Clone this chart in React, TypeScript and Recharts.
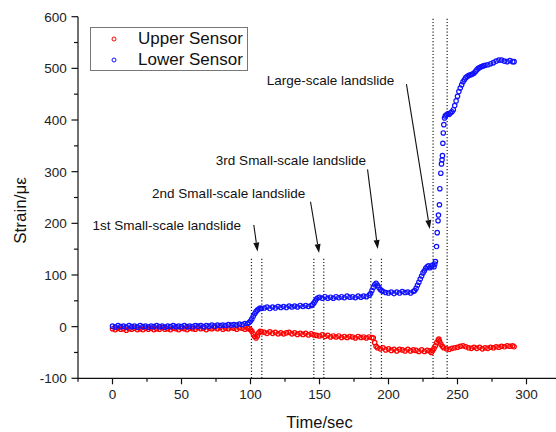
import React from 'react';
import { ScatterChart, Scatter, XAxis, YAxis, ReferenceLine, ReferenceDot, Legend } from 'recharts';

const FONT = '"Liberation Sans", Arial, Helvetica, sans-serif';

// [time (s), strain (με)]
const upperSensor: [number, number][] = [
  [0,-4],[2,-6],[4,-3],[6,-5],[8,-4],[10,-7],[12,-4],[14,-5],[16,-3],[18,-6],[20,-4],[22,-6],[24,-3],[26,-5],[28,-3],[30,-6],
  [32,-4],[34,-5],[36,-2],[38,-5],[40,-4],[42,-6],[44,-3],[46,-4],[48,-6],[50,-3],[52,-4],[54,-6],[56,-3],[58,-4],[60,-5],
  [62,-2],[64,-4],[66,-3],[68,-6],[70,-3],[72,-4],[74,-2],[76,-4],[78,-2],[80,-5],[82,-3],[84,-4],[86,-2],[88,-3],[90,-5],
  [92,-2],[94,-3],[96,-5],[98,-3],[99,-4],[100,-6],[101,-9],[102,-14],[103,-19],[104,-22],[105,-18],[106,-12],[107,-9],
  [108,-10],[110,-11],[112,-13],[114,-10],[116,-13],[118,-11],[120,-14],[122,-12],[124,-14],[126,-12],[128,-11],[130,-14],
  [132,-12],[134,-15],[136,-13],[138,-15],[140,-13],[142,-16],[144,-14],[146,-16],[148,-17],[150,-18],[152,-16],[154,-19],
  [156,-17],[158,-20],[160,-18],[162,-20],[164,-18],[166,-21],[168,-19],[170,-21],[172,-19],[174,-20],[176,-22],[178,-19],
  [180,-21],[182,-20],[184,-22],[186,-20],[188,-21],[189,-22],[190,-31],[191,-38],[192,-41],[194,-43],[196,-41],[198,-45],
  [200,-43],[202,-46],[204,-44],[206,-47],[208,-44],[210,-45],[212,-47],[214,-44],[216,-47],[218,-45],[220,-46],[222,-48],
  [224,-45],[226,-48],[228,-46],[230,-47],[231,-50],[232,-46],[233,-42],[234,-37],[235,-31],[236,-26],[236.5,-24],[237,-29],
  [238,-34],[239,-38],[240,-41],[242,-43],[244,-44],[246,-42],[248,-41],[250,-40],[252,-38],[254,-37],[256,-39],[258,-41],
  [260,-42],[262,-40],[264,-42],[266,-40],[268,-43],[270,-41],[272,-42],[274,-40],[276,-41],[278,-39],[280,-40],[282,-38],
  [284,-39],[286,-37],[288,-38],[290,-37],[291,-39],
];

const lowerSensor: [number, number][] = [
  [0,1],[2,-1],[4,2],[6,0],[8,1],[10,-1],[12,2],[14,0],[16,1],[18,-1],[20,2],[22,0],[24,1],[26,-1],[28,1],[30,0],[32,2],
  [34,0],[36,1],[38,-1],[40,1],[42,0],[44,2],[46,0],[48,1],[50,0],[52,2],[54,0],[56,1],[58,0],[60,2],[62,1],[64,2],[66,0],
  [68,2],[70,1],[72,3],[74,1],[76,3],[78,2],[80,3],[82,2],[84,4],[86,3],[88,4],[90,3],[92,5],[94,4],[96,6],[98,6],
  [99,8],[100,11],[101,15],[102,20],[103,25],[104,29],[105,32],[106,34],[107,36],[108,35],[110,36],[112,38],[114,35],
  [116,38],[118,36],[120,39],[122,37],[124,39],[126,37],[128,40],[130,38],[132,40],[134,38],[136,41],[138,39],[140,41],
  [142,39],[144,41],[145,43],[146,46],[147,50],[148,54],[149,56],[150,57],[152,55],[154,58],[156,55],[158,57],[160,55],
  [162,58],[164,56],[166,58],[168,56],[170,59],[172,57],[174,58],[176,56],[178,59],[180,57],[182,59],[184,58],[186,61],
  [187,64],[188,70],[189,76],[190,81],[191,84],[192,80],[193,76],[194,72],[195,70],[196,68],[198,66],[200,65],[202,67],
  [204,64],[206,67],[208,65],[210,68],[212,66],[214,67],[216,65],[218,68],[219,70],[220,74],[221,80],[222,86],[223,92],
  [224,98],[225,104],[226,108],[227,113],[228,116],[229,118],[230,114],[231,117],[232,119],[233,116],[233.5,121],[234,126],
  [234.8,155],[235.3,182],[235.9,205],[236.2,216],[236.9,236],[237.2,267],[237.9,297],[238.4,315],[238.8,323],[239.1,331],
  [239.4,355],[239.7,375],[240.1,391],[240.6,404],[241.2,408],[242,410],[243,412],[244,411],[245,414],[246,416],[247,420],
  [248,428],[249,437],[250,446],[251,455],[252,462],[253,468],[254,474],[255,478],[256,482],[257,484],[258,486],[259,487],
  [260,488],[261,489],[262,491],[263,494],[264,497],[265,500],[266,501],[267,503],[268,504],[269,505],[270,506],[272,507],
  [274,509],[276,511],[278,514],[280,516],[282,516],[284,514],[286,513],[288,515],[290,513],[291,513],
];

const xTicks = [-25, 0, 25, 50, 75, 100, 125, 150, 175, 200, 225, 250, 275, 300, 325];
const yTicks = [-100, -50, 0, 50, 100, 150, 200, 250, 300, 350, 400, 450, 500, 550, 600];
const xLabeled = [0, 50, 100, 150, 200, 250, 300];
const yLabeled = [-100, 0, 100, 200, 300, 400, 500, 600];

// landslide event windows (s): [start, end]
const eventWindows: [number, number][] = [[100.7, 108.2], [145.9, 153.1], [187.2, 194.9]];
const largeWindow: [number, number] = [232.3, 242.5];
const windowTop = 135;

// annotation texts: [label, x, y]
const annotations: [string, number, number][] = [
  ['1st Small-scale landslide', -14.5, 196.7],
  ['2nd Small-scale landslide', 28.7, 258.6],
  ['3rd Small-scale landslide', 74.9, 322.5],
  ['Large-scale landslide', 111.8, 477.4],
];
// arrows: [x1, y1, x2, y2]
const arrows: [number, number, number, number][] = [
  [102.4, 196.7, 105.1, 145.4],
  [143.5, 241.8, 149.7, 142.5],
  [184.8, 304.5, 192.2, 150.2],
  [213.0, 469.6, 229.9, 188.9],
];

const upperData = upperSensor.map(([t, v]) => ({ t, v }));
const lowerData = lowerSensor.map(([t, v]) => ({ t, v }));

const RED = '#ff0000';
const BLUE = '#1010ff';
const AX = '#111';

const circle = (color: string) => (p: any) => (
  <circle cx={p.cx} cy={p.cy} r={2.2} fill="none" stroke={color} strokeWidth={1.2} />
);

const BottomTick = (p: any) => {
  const v = p.payload.value;
  const major = v % 50 === 0;
  return (
    <g>
      <line x1={p.x} x2={p.x} y1={p.y} y2={p.y + (major ? 6 : 3.5)} stroke={AX} strokeWidth={1.2} />
      {xLabeled.includes(v) && (
        <text x={p.x} y={p.y + 11.5} dy="0.71em" textAnchor="middle" fontFamily={FONT} fontSize={13.5} fill="#222">
          {v}
        </text>
      )}
    </g>
  );
};
const TopTick = (p: any) => {
  const v = p.payload.value;
  const major = v % 50 === 0;
  return <line x1={p.x} x2={p.x} y1={p.y} y2={p.y + (major ? 6.5 : 3.5)} stroke={AX} strokeWidth={1.2} />;
};
const LeftTick = (p: any) => {
  const v = p.payload.value;
  const major = v % 100 === 0;
  return (
    <g>
      <line x1={p.x} x2={p.x - (major ? 6.5 : 4)} y1={p.y} y2={p.y} stroke={AX} strokeWidth={1.2} />
      {yLabeled.includes(v) && (
        <text x={p.x - 11.3} y={p.y} dy="0.36em" textAnchor="end" fontFamily={FONT} fontSize={13.5} fill="#222">
          {v}
        </text>
      )}
    </g>
  );
};
const RightTick = (p: any) => {
  const v = p.payload.value;
  const major = v % 100 === 0;
  return <line x1={p.x} x2={p.x - (major ? 6 : 3.5)} y1={p.y} y2={p.y} stroke={AX} strokeWidth={1.2} />;
};

const Arrow = (p: any) => {
  const { x1, y1, x2, y2 } = p;
  const dx = x2 - x1;
  const dy = y2 - y1;
  const len = Math.hypot(dx, dy) || 1;
  const ux = dx / len;
  const uy = dy / len;
  const hl = 9;
  const hw = 3;
  const bx = x2 - ux * hl;
  const by = y2 - uy * hl;
  return (
    <g>
      <line x1={x1} y1={y1} x2={bx} y2={by} stroke="#111" strokeWidth={1.1} />
      <polygon points={`${x2},${y2} ${bx - uy * hw},${by + ux * hw} ${bx + uy * hw},${by - ux * hw}`} fill="#111" />
    </g>
  );
};

const textShape = (label: string) => (p: any) => (
  <text x={p.cx} y={p.cy} dy="0.36em" textAnchor="start" fontFamily={FONT} fontSize={13.5} fill="#111">
    {label}
  </text>
);

const legendItems = [
  { name: 'Upper Sensor', color: RED },
  { name: 'Lower Sensor', color: BLUE },
];

const LegendBox = () => (
  <div
    style={{
      width: 158,
      height: 44,
      boxSizing: 'border-box',
      border: '1px solid #777',
      background: '#fff',
      fontFamily: FONT,
      fontSize: 17,
      color: '#111',
      position: 'relative',
    }}
  >
    {legendItems.map((it, i) => (
      <div key={it.name} style={{ position: 'absolute', left: 0, top: 1 + i * 21, height: 20, width: 156 }}>
        <svg width={14} height={20} style={{ position: 'absolute', left: 16, top: 0 }}>
          <circle cx={7} cy={10} r={2} fill="none" stroke={it.color} strokeWidth={1} />
        </svg>
        <span style={{ position: 'absolute', left: 47, top: 0, lineHeight: '20px', whiteSpace: 'nowrap' }}>{it.name}</span>
      </div>
    ))}
  </div>
);

export default function App() {
  return (
    <div style={{ position: 'absolute', left: 0, top: 0, width: 556, height: 432, overflow: 'hidden', background: '#fff' }}>
      <ScatterChart width={580} height={432} margin={{ top: 16.7, right: 19, bottom: 0, left: 0 }}>
        <XAxis
          xAxisId="b"
          dataKey="t"
          type="number"
          domain={[-25, 325]}
          ticks={xTicks}
          interval={0}
          allowDataOverflow
          height={53.7}
          tickSize={0}
          tickMargin={0}
          tickLine={false}
          tick={<BottomTick />}
          axisLine={{ stroke: AX, strokeWidth: 1.2 }}
          label={{
            content: (lp: any) => {
              const vb = lp.viewBox || {};
              return (
                <text x={vb.x + vb.width / 2} y={vb.y + 50} textAnchor="middle" fontFamily={FONT} fontSize={16.5} fill="#111">
                  Time/sec
                </text>
              );
            },
          }}
        />
        <XAxis
          xAxisId="t"
          orientation="top"
          type="number"
          domain={[-25, 325]}
          ticks={xTicks}
          interval={0}
          allowDataOverflow
          height={0}
          tickSize={0}
          tickMargin={0}
          tickLine={false}
          tick={<TopTick />}
          axisLine={{ stroke: AX, strokeWidth: 1.2 }}
        />
        <YAxis
          yAxisId="l"
          dataKey="v"
          type="number"
          domain={[-100, 600]}
          ticks={yTicks}
          interval={0}
          allowDataOverflow
          width={78}
          tickSize={0}
          tickMargin={0}
          tickLine={false}
          tick={<LeftTick />}
          axisLine={{ stroke: AX, strokeWidth: 1.2 }}
          label={{
            content: (lp: any) => {
              const vb = lp.viewBox || {};
              const cx = vb.x + 20;
              const cy = vb.y + vb.height / 2 + 13;
              return (
                <text
                  x={cx}
                  y={cy}
                  transform={`rotate(-90 ${cx} ${cy})`}
                  textAnchor="middle"
                  dy="0.36em"
                  fontFamily={FONT}
                  fontSize={17}
                  fill="#111"
                >
                  Strain/με
                </text>
              );
            },
          }}
        />
        <YAxis
          yAxisId="r"
          orientation="right"
          type="number"
          domain={[-100, 600]}
          ticks={yTicks}
          interval={0}
          allowDataOverflow
          width={0}
          tickSize={0}
          tickMargin={0}
          tickLine={false}
          tick={<RightTick />}
          axisLine={{ stroke: AX, strokeWidth: 1.2 }}
        />
        <Legend
          layout="vertical"
          align="center"
          verticalAlign="middle"
          wrapperStyle={{ left: 90, top: 27, width: 158, height: 44 }}
          content={() => <LegendBox />}
        />
        {eventWindows.flatMap(([a, b], i) =>
          [a, b].map((x, j) => (
            <ReferenceLine
              key={`w${i}-${j}`}
              xAxisId="b"
              yAxisId="l"
              segment={[{ x, y: -100 }, { x, y: windowTop }]}
              stroke="#222"
              strokeWidth={1.2}
              strokeDasharray="1.2 2"
            />
          ))
        )}
        {largeWindow.map((x, j) => (
          <ReferenceLine
            key={`lw${j}`}
            xAxisId="b"
            yAxisId="l"
            x={x}
            stroke="#222"
            strokeWidth={1.2}
            strokeDasharray="1.2 2"
          />
        ))}
        <Scatter
          name="Upper Sensor"
          data={upperData}
          xAxisId="b"
          yAxisId="l"
          fill={RED}
          shape={circle(RED)}
          isAnimationActive={false}
        />
        <Scatter
          name="Lower Sensor"
          data={lowerData}
          xAxisId="b"
          yAxisId="l"
          fill={BLUE}
          shape={circle(BLUE)}
          isAnimationActive={false}
        />
        {arrows.map(([x1, y1, x2, y2], i) => (
          <ReferenceLine
            key={`a${i}`}
            xAxisId="b"
            yAxisId="l"
            segment={[{ x: x1, y: y1 }, { x: x2, y: y2 }]}
            shape={(p: any) => <Arrow {...p} />}
          />
        ))}
        {annotations.map(([label, x, y]) => (
          <ReferenceDot key={label} xAxisId="b" yAxisId="l" x={x} y={y} r={0} shape={textShape(label)} />
        ))}
      </ScatterChart>
    </div>
  );
}
